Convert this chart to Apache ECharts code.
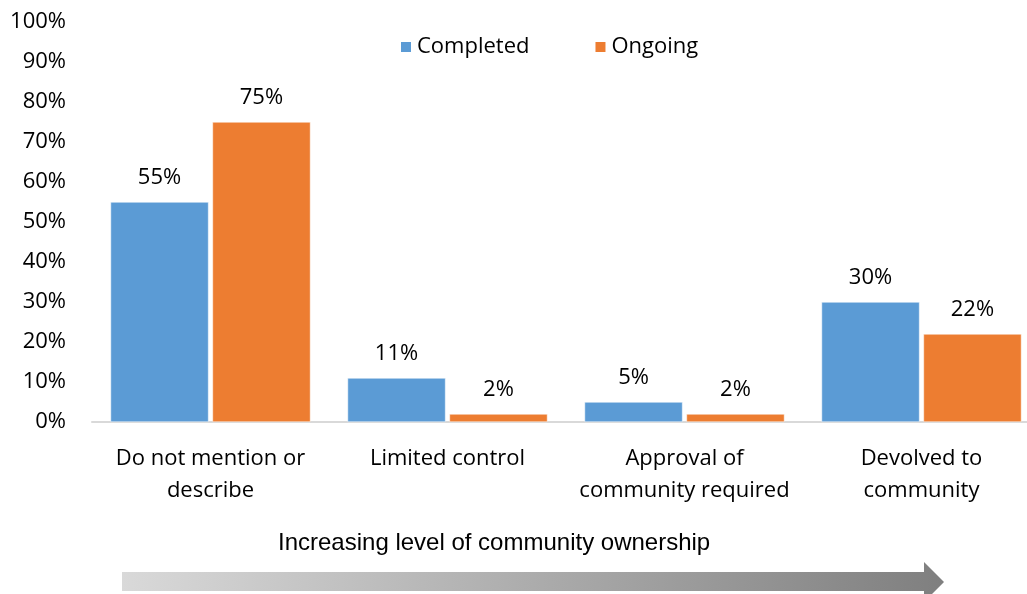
<!DOCTYPE html>
<html>
<head>
<meta charset="utf-8">
<script src="https://cdn.jsdelivr.net/npm/echarts@6/dist/echarts.min.js"></script>
<style>
  html, body { margin: 0; padding: 0; background: #ffffff; }
  #chart { width: 1027px; height: 594px; }
</style>
</head>
<body>
<div id="chart"></div>
<script>
// Ownership categories, ordered from least to most community control
const categories = [
  'Do not mention or\ndescribe',
  'Limited control',
  'Approval of\ncommunity required',
  'Devolved to\ncommunity'
];
const seriesNames = ['Completed', 'Ongoing'];
const completed = [55, 11, 5, 30];
const ongoing = [75, 2, 2, 22];
const footerText = 'Increasing level of community ownership';

const FONT = '"Open Sans", Lato, sans-serif';
const FONT_SIZE = 22;

const chart = echarts.init(document.getElementById('chart'), null, { renderer: 'canvas' });

const barLabel = {
  show: true,
  position: 'top',
  distance: 13,
  formatter: p => p.value + '%',
  color: '#000000',
  fontFamily: FONT,
  fontSize: FONT_SIZE
};

chart.setOption({
  animation: false,
  backgroundColor: '#ffffff',
  grid: {
    left: 92, top: 22, width: 948, height: 400,
    containLabel: false,
    outerBoundsMode: 'none'
  },
  legend: {
    data: seriesNames,
    left: 394,
    top: 31,
    itemWidth: 12,
    itemHeight: 12,
    itemGap: 64,
    icon: 'rect',
    textStyle: { fontFamily: FONT, fontSize: FONT_SIZE, color: '#000000' }
  },
  xAxis: {
    type: 'category',
    data: categories,
    axisLine: { show: true, lineStyle: { color: '#d9d9d9', width: 2 } },
    axisTick: { show: false },
    axisLabel: {
      margin: 21,
      interval: 0,
      color: '#000000',
      fontFamily: FONT,
      fontSize: FONT_SIZE,
      lineHeight: 32
    }
  },
  yAxis: {
    type: 'value',
    min: 0,
    max: 100,
    interval: 10,
    axisLine: { show: false },
    axisTick: { show: false },
    splitLine: { show: false },
    axisLabel: {
      margin: 26,
      formatter: v => v + '%',
      color: '#000000',
      fontFamily: FONT,
      fontSize: FONT_SIZE
    }
  },
  series: [
    {
      name: seriesNames[0],
      type: 'bar',
      data: completed,
      barWidth: 98,
      barGap: '4%',
      itemStyle: { color: '#5b9bd5', borderColor: '#ffffff', borderWidth: 0.5 },
      label: barLabel
    },
    {
      name: seriesNames[1],
      type: 'bar',
      data: ongoing,
      barWidth: 98,
      barGap: '4%',
      itemStyle: { color: '#ed7d31', borderColor: '#ffffff', borderWidth: 0.5 },
      label: barLabel
    }
  ],
  graphic: [
    {
      type: 'text',
      x: 278,
      y: 543,
      style: {
        text: footerText,
        fill: '#000000',
        verticalAlign: 'middle',
        font: '24px "Liberation Sans Narrow", "Liberation Sans", Arial, sans-serif'
      }
    },
    {
      type: 'polygon',
      shape: {
        points: [
          [122, 572], [924, 572], [924, 562], [944, 582],
          [924, 602], [924, 591], [122, 591]
        ]
      },
      style: {
        fill: new echarts.graphic.LinearGradient(0, 0, 1, 0, [
          { offset: 0, color: '#d9d9d9' },
          { offset: 1, color: '#7f7f7f' }
        ])
      }
    }
  ]
});
</script>
</body>
</html>
